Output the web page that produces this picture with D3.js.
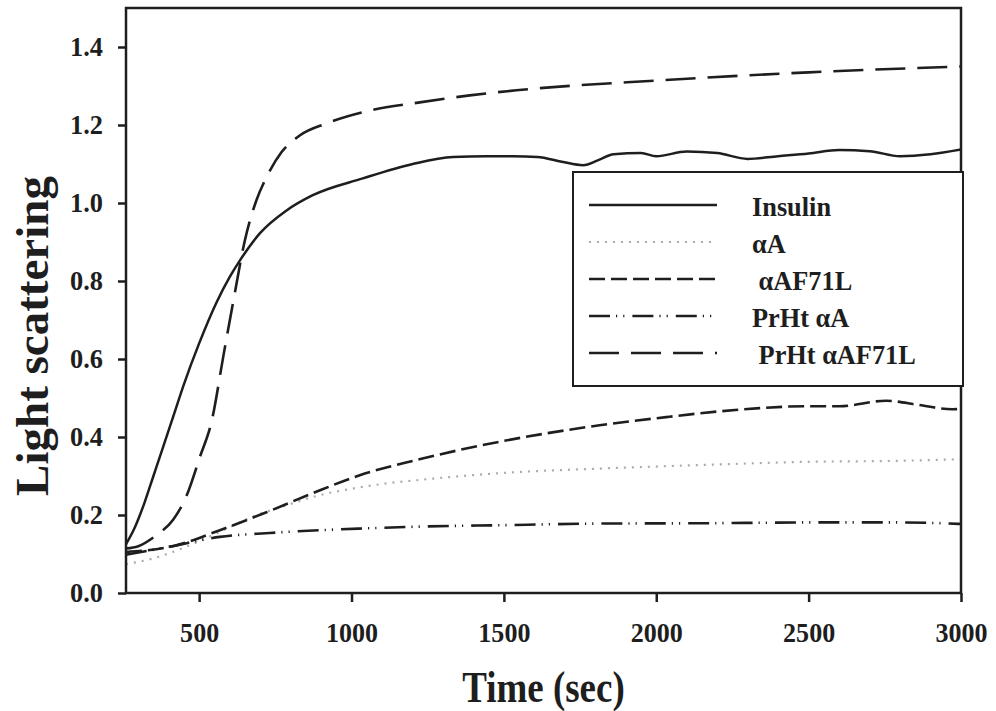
<!DOCTYPE html>
<html lang="en">
<head>
  <meta charset="UTF-8">
  <title>Light scattering</title>
  <script src="https://cdn.jsdelivr.net/npm/d3@7"></script>
  <style>
    body { margin: 0; background: #fff; }
    text { font-family: "Liberation Serif", "Times New Roman", serif; font-weight: bold; fill: #1e1e1e; }
  </style>
</head>
<body>
  <div id="chart"></div>
  <script>
    // values (time in sec, light scattering)
    const insulinT = [260, 290, 320, 350, 380, 414, 450, 500, 557, 600, 634, 699, 787, 873, 1037, 1201, 1333, 1443, 1529, 1610, 1690, 1760, 1810, 1860, 1950, 2000, 2100, 2200, 2300, 2400, 2500, 2600, 2700, 2800, 2900, 3000];
    const insulinV = [0.125, 0.17, 0.23, 0.30, 0.37, 0.45, 0.535, 0.64, 0.745, 0.81, 0.853, 0.922, 0.981, 1.02, 1.063, 1.10, 1.118, 1.12, 1.12, 1.118, 1.106, 1.097, 1.11, 1.125, 1.128, 1.12, 1.132, 1.128, 1.113, 1.12, 1.127, 1.136, 1.133, 1.12, 1.125, 1.137];

    const aAT = [260, 350, 459, 568, 677, 787, 896, 1005, 1115, 1224, 1500, 1814, 2142, 2470, 2798, 3000];
    const aAV = [0.074, 0.089, 0.119, 0.157, 0.196, 0.225, 0.251, 0.268, 0.281, 0.29, 0.308, 0.319, 0.328, 0.336, 0.339, 0.343];

    const aAF71LT = [260, 414, 568, 721, 873, 1027, 1213, 1500, 1814, 2044, 2197, 2339, 2492, 2601, 2754, 2863, 2971, 3000];
    const aAF71LV = [0.105, 0.12, 0.161, 0.207, 0.256, 0.302, 0.341, 0.39, 0.43, 0.452, 0.465, 0.474, 0.479, 0.479, 0.493, 0.482, 0.471, 0.472];

    const prhtAT = [260, 404, 568, 732, 896, 1060, 1213, 1500, 1814, 2200, 2500, 2800, 3000];
    const prhtAV = [0.098, 0.119, 0.144, 0.154, 0.161, 0.166, 0.17, 0.174, 0.178, 0.179, 0.181, 0.181, 0.177];

    const prhtFT = [260, 300, 361, 414, 459, 503, 541, 580, 617, 650, 688, 721, 770, 830, 918, 1060, 1224, 1388, 1541, 2000, 2500, 3000];
    const prhtFV = [0.114, 0.12, 0.149, 0.187, 0.25, 0.35, 0.44, 0.61, 0.769, 0.904, 1.007, 1.066, 1.13, 1.173, 1.204, 1.237, 1.258, 1.276, 1.289, 1.314, 1.335, 1.35];

    const seriesNames = ["Insulin", "\u03b1A", " \u03b1AF71L", "PrHt \u03b1A", " PrHt \u03b1AF71L"];
    const xTicks = [500, 1000, 1500, 2000, 2500, 3000];
    const yTicks = [0.0, 0.2, 0.4, 0.6, 0.8, 1.0, 1.2, 1.4];

    const series = [
      { name: seriesNames[0], t: insulinT, v: insulinV, stroke: "#1e1e1e", width: 2.5, dash: null },
      { name: seriesNames[1], t: aAT, v: aAV, stroke: "#ababab", width: 2.2, dash: "2,6" },
      { name: seriesNames[2], t: aAF71LT, v: aAF71LV, stroke: "#1e1e1e", width: 2.6, dash: "16,6" },
      { name: seriesNames[3], t: prhtAT, v: prhtAV, stroke: "#1e1e1e", width: 2.6, dash: "21,6,1.2,6,1.2,8" },
      { name: seriesNames[4], t: prhtFT, v: prhtFV, stroke: "#1e1e1e", width: 2.6, dash: "30,12" }
    ];

    const W = 996, H = 711;
    const margin = { top: 8, right: 35, bottom: 118, left: 126 };

    const svg = d3.select("#chart").append("svg")
      .attr("width", W)
      .attr("height", H);

    const x = d3.scaleLinear().domain([260, 3000]).range([margin.left, W - margin.right]);
    const y = d3.scaleLinear().domain([0, 1.5]).range([H - margin.bottom, margin.top]);

    // squeeze text horizontally (the original lettering is a bit narrow)
    function squeeze(sel, k) {
      sel.each(function () {
        const len = this.getComputedTextLength();
        d3.select(this).attr("textLength", len * k).attr("lengthAdjust", "spacingAndGlyphs");
      });
    }

    svg.append("clipPath").attr("id", "clip")
      .append("rect")
        .attr("x", x.range()[0]).attr("y", y.range()[1])
        .attr("width", x.range()[1] - x.range()[0])
        .attr("height", y.range()[0] - y.range()[1]);

    const line = d3.line()
      .x(d => x(d[0]))
      .y(d => y(d[1]))
      .curve(d3.curveMonotoneX);

    svg.append("g").attr("clip-path", "url(#clip)")
      .selectAll("path")
      .data(series)
      .join("path")
        .attr("fill", "none")
        .attr("stroke", d => d.stroke)
        .attr("stroke-width", d => d.width)
        .attr("stroke-dasharray", d => d.dash)
        .attr("d", d => line(d.t.map((t, i) => [t, d.v[i]])));

    // axes
    const xAxis = svg.append("g")
      .attr("transform", `translate(0,${y.range()[0]})`)
      .call(d3.axisBottom(x).tickValues(xTicks).tickFormat(d3.format("d")).tickSize(9).tickSizeOuter(0).tickPadding(20));
    const yAxis = svg.append("g")
      .attr("transform", `translate(${x.range()[0]},0)`)
      .call(d3.axisLeft(y).tickValues(yTicks).tickFormat(d3.format(".1f")).tickSize(8).tickSizeOuter(0).tickPadding(15));

    [xAxis, yAxis].forEach(g => {
      g.select(".domain").remove();
      g.selectAll(".tick line").attr("stroke", "#1e1e1e").attr("stroke-width", 2.5);
      g.selectAll(".tick text").attr("fill", "#1e1e1e").style("font-size", "28px").style("font-family", null);
    });
    squeeze(xAxis.selectAll(".tick text"), 0.93);
    squeeze(yAxis.selectAll(".tick text"), 0.94);

    // frame
    svg.append("rect")
      .attr("x", x.range()[0]).attr("y", y.range()[1])
      .attr("width", x.range()[1] - x.range()[0])
      .attr("height", y.range()[0] - y.range()[1])
      .attr("fill", "none")
      .attr("stroke", "#1e1e1e")
      .attr("stroke-width", 2.5);

    // axis titles
    const xt = svg.append("text")
      .attr("x", (x.range()[0] + x.range()[1]) / 2)
      .attr("y", 702)
      .attr("text-anchor", "middle")
      .style("font-size", "44px")
      .text("Time (sec)");
    squeeze(xt, 0.84);

    svg.append("text")
      .attr("transform", "translate(48,336) rotate(-90)")
      .attr("text-anchor", "middle")
      .style("font-size", "47px")
      .text("Light scattering");

    // legend
    const lg = svg.append("g");
    lg.append("rect")
      .attr("x", 573).attr("y", 172)
      .attr("width", 390).attr("height", 214)
      .attr("fill", "#fff")
      .attr("stroke", "#1e1e1e")
      .attr("stroke-width", 2);

    const rows = lg.selectAll("g.row")
      .data(series)
      .join("g")
        .attr("class", "row")
        .attr("transform", (d, i) => `translate(0,${205 + i * 37})`);

    rows.append("line")
      .attr("x1", 589).attr("x2", 717)
      .attr("y1", 0).attr("y2", 0)
      .attr("stroke", d => d.stroke)
      .attr("stroke-width", d => d.width)
      .attr("stroke-dasharray", d => d.dash);

    const lt = rows.append("text")
      .attr("x", 752)
      .attr("y", 11)
      .style("font-size", "28px")
      .style("white-space", "pre")
      .text(d => d.name);
    squeeze(lt, 0.94);
  </script>
</body>
</html>
